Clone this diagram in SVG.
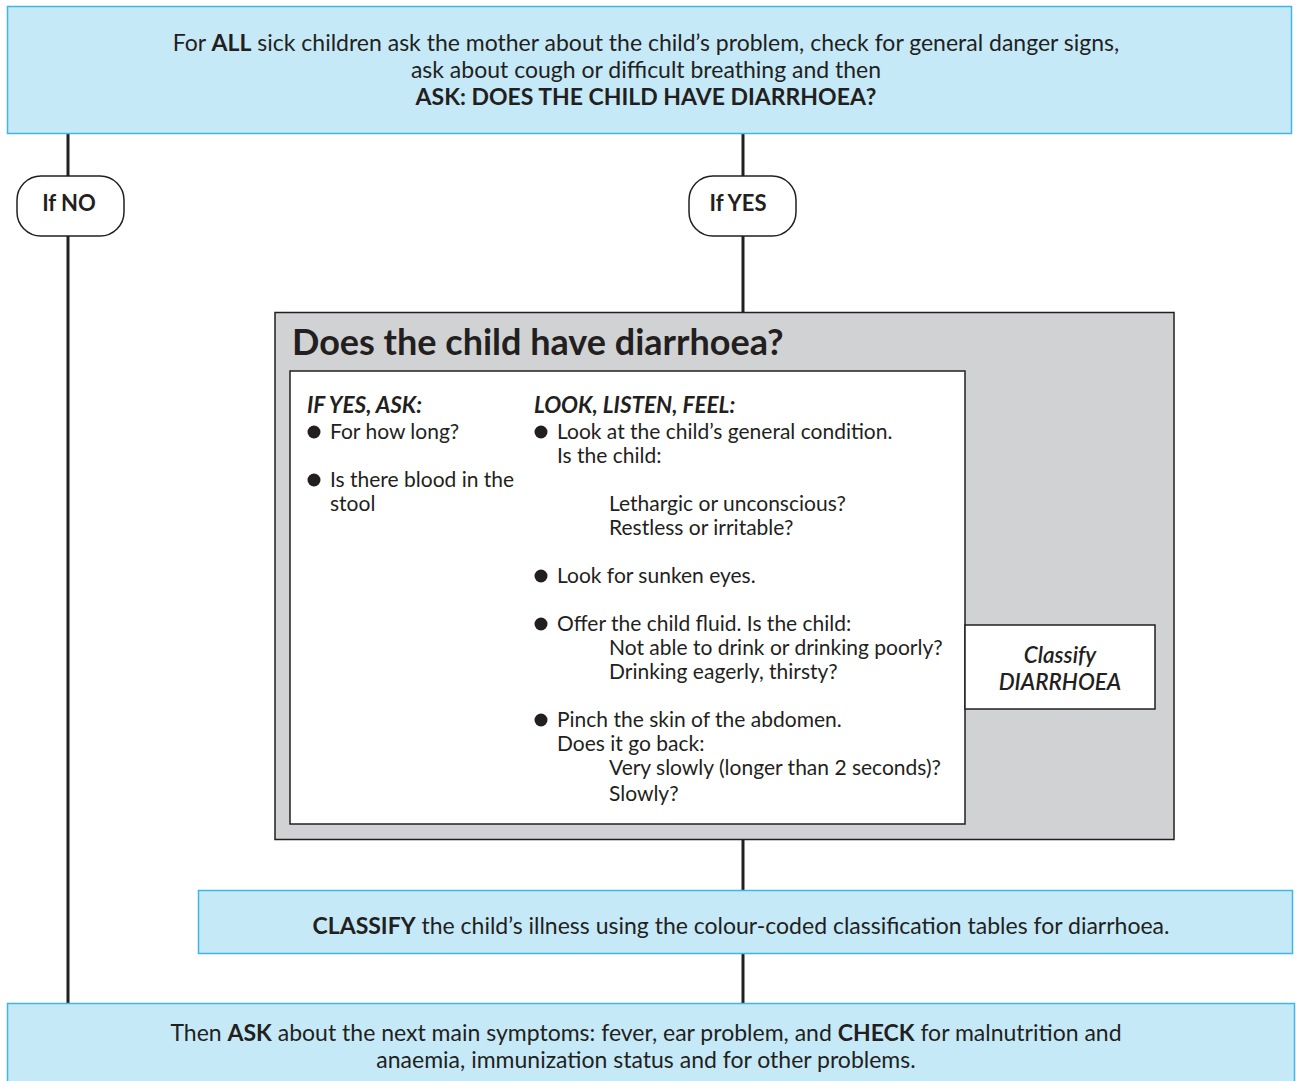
<svg xmlns="http://www.w3.org/2000/svg" width="1296" height="1081" viewBox="0 0 1296 1081">
<style>
text{font-family:Lato,"Open Sans","Liberation Sans",sans-serif;fill:#231f20;font-size:21px}
.big{font-size:23px}
.c{text-anchor:middle}
.b{font-weight:bold}
.bi{font-weight:bold;font-style:italic;font-size:22.5px}
.blue{fill:#c6e9f8;stroke:#3fb6e8;stroke-width:1.5}
.ln{stroke:#231f20;stroke-width:3;fill:none}
.pill{fill:#fff;stroke:#231f20;stroke-width:1.5}
.dot{fill:#231f20}
</style>
<rect width="1296" height="1081" fill="#fff"/>
<g id="connectors">
<line class="ln" x1="68" y1="133" x2="68" y2="1003"/>
<line class="ln" x1="743" y1="133" x2="743" y2="312"/>
<line class="ln" x1="743" y1="840" x2="743" y2="890"/>
<line class="ln" x1="743" y1="954" x2="743" y2="1003"/>
</g>
<g id="start">
<rect class="blue" x="7.5" y="6.5" width="1284" height="127"/>
<text class="c big" x="646" y="51">For <tspan class="b">ALL</tspan> sick children ask the mother about the child’s problem, check for general danger signs,</text>
<text class="c big" x="646" y="78">ask about cough or difficult breathing and then</text>
<text class="c big b" x="646" y="105">ASK: DOES THE CHILD HAVE DIARRHOEA?</text>
</g>
<g id="ifno">
<rect class="pill" x="17" y="176" width="107" height="60" rx="24"/>
<text class="c b" x="69" y="211" style="font-size:22px">If NO</text>
</g>
<g id="ifyes">
<rect class="pill" x="689" y="176" width="107" height="60" rx="24"/>
<text class="c b" x="738" y="211" style="font-size:22px">If YES</text>
</g>
<g id="assess">
<rect x="275" y="312.5" width="899" height="527" fill="#d1d2d4" stroke="#231f20" stroke-width="1.5"/>
<text class="b" x="292" y="355" style="font-size:36px">Does the child have diarrhoea?</text>
<rect x="290" y="371" width="675" height="453" fill="#fff" stroke="#231f20" stroke-width="1.5"/>
<text class="bi" x="307" y="413">IF YES, ASK:</text>
<circle class="dot" cx="314" cy="432" r="6.5"/>
<text x="330" y="439">For how long?</text>
<circle class="dot" cx="314" cy="480" r="6.5"/>
<text x="330" y="487">Is there blood in the</text>
<text x="330" y="511">stool</text>
<text class="bi" x="534" y="413">LOOK, LISTEN, FEEL:</text>
<circle class="dot" cx="541" cy="432" r="6.5"/>
<text x="557" y="439">Look at the child’s general condition.</text>
<text x="557" y="463">Is the child:</text>
<text x="609" y="511">Lethargic or unconscious?</text>
<text x="609" y="535">Restless or irritable?</text>
<circle class="dot" cx="541" cy="576" r="6.5"/>
<text x="557" y="583">Look for sunken eyes.</text>
<circle class="dot" cx="541" cy="624" r="6.5"/>
<text x="557" y="631">Offer the child fluid. Is the child:</text>
<text x="609" y="655">Not able to drink or drinking poorly?</text>
<text x="609" y="679">Drinking eagerly, thirsty?</text>
<circle class="dot" cx="541" cy="720" r="6.5"/>
<text x="557" y="727">Pinch the skin of the abdomen.</text>
<text x="557" y="751">Does it go back:</text>
<text x="609" y="775">Very slowly (longer than 2 seconds)?</text>
<text x="609" y="801">Slowly?</text>
</g>
<g id="classifybox">
<rect x="965" y="625" width="190" height="84" fill="#fff" stroke="#231f20" stroke-width="1.5"/>
<text class="c bi" x="1060" y="663" style="font-weight:600">Classify</text>
<text class="c bi" x="1060" y="690" style="font-weight:600">DIARRHOEA</text>
</g>
<g id="classify">
<rect class="blue" x="198.5" y="890.5" width="1094" height="63"/>
<text class="c big" x="741" y="934"><tspan class="b">CLASSIFY</tspan> the child’s illness using the colour-coded classification tables for diarrhoea.</text>
</g>
<g id="next">
<rect class="blue" x="7.5" y="1003.5" width="1287" height="80"/>
<text class="c big" x="646" y="1041">Then <tspan class="b">ASK</tspan> about the next main symptoms: fever, ear problem, and <tspan class="b">CHECK</tspan> for malnutrition and</text>
<text class="c big" x="646" y="1068">anaemia, immunization status and for other problems.</text>
</g>
</svg>
